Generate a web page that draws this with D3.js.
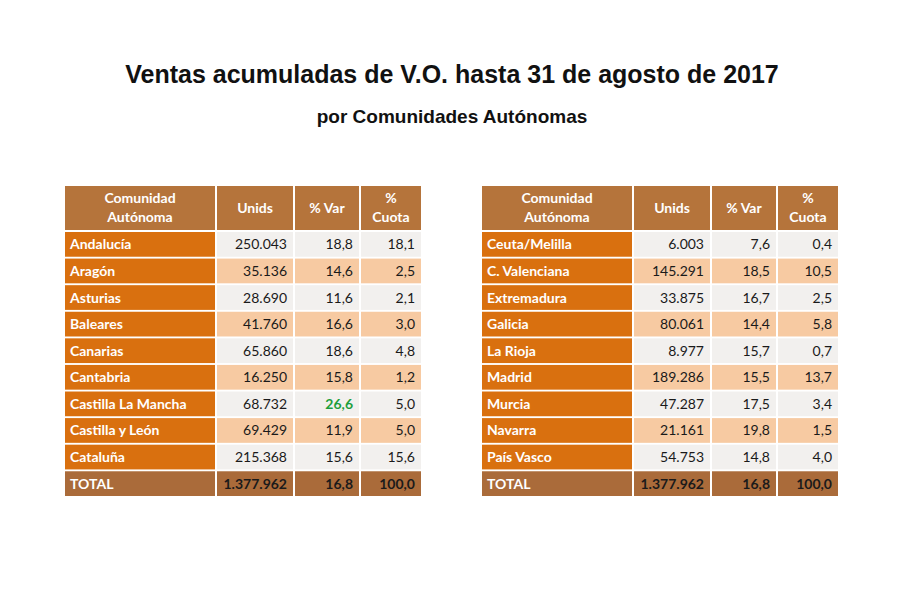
<!DOCTYPE html>
<html lang="es">
<head>
<meta charset="UTF-8">
<title>Ventas acumuladas de V.O.</title>
<script src="https://d3js.org/d3.v7.min.js"></script>
<style>
  body { margin: 0; background: #fff; }
  svg { display: block; }
</style>
</head>
<body>
<svg></svg>
<script>
const width = 900, height = 600;

const headers = ["Comunidad\nAutónoma", "Unids", "% Var", "%\nCuota"];

const regionsLeft = ["Andalucía", "Aragón", "Asturias", "Baleares", "Canarias", "Cantabria", "Castilla La Mancha", "Castilla y León", "Cataluña"];
const unidsLeft = ["250.043", "35.136", "28.690", "41.760", "65.860", "16.250", "68.732", "69.429", "215.368"];
const varLeft = ["18,8", "14,6", "11,6", "16,6", "18,6", "15,8", "26,6", "11,9", "15,6"];
const cuotaLeft = ["18,1", "2,5", "2,1", "3,0", "4,8", "1,2", "5,0", "5,0", "15,6"];

const regionsRight = ["Ceuta/Melilla", "C. Valenciana", "Extremadura", "Galicia", "La Rioja", "Madrid", "Murcia", "Navarra", "País Vasco"];
const unidsRight = ["6.003", "145.291", "33.875", "80.061", "8.977", "189.286", "47.287", "21.161", "54.753"];
const varRight = ["7,6", "18,5", "16,7", "14,4", "15,7", "15,5", "17,5", "19,8", "14,8"];
const cuotaRight = ["0,4", "10,5", "2,5", "5,8", "0,7", "13,7", "3,4", "1,5", "4,0"];

const total = ["TOTAL", "1.377.962", "16,8", "100,0"];
const highlight = "26,6";

const svg = d3.select("svg").attr("width", width).attr("height", height);

svg.append("text").attr("x", 452).attr("y", 83).attr("text-anchor", "middle")
  .style("font-family", "'Liberation Sans Narrow', 'Liberation Sans', Arial, sans-serif")
  .style("font-weight", "bold").style("font-size", "25px").attr("fill", "#111")
  .text("Ventas acumuladas de V.O. hasta 31 de agosto de 2017");
svg.append("text").attr("x", 452).attr("y", 123).attr("text-anchor", "middle")
  .style("font-family", "'Liberation Sans Narrow', 'Liberation Sans', Arial, sans-serif")
  .style("font-weight", "bold").style("font-size", "19px").attr("fill", "#111")
  .text("por Comunidades Autónomas");

const colWidths = [152, 78, 66, 62];
const gap = 2;

function drawTable(x0, regions, unids, vars, cuotas) {
  const rows = regions.map((r, i) => [r, unids[i], vars[i], cuotas[i]]);
  rows.push(total);
  const g = svg.append("g").attr("transform", `translate(${x0},0)`);
  const edges = d3.cumsum([0, ...colWidths]);
  const y = d3.scaleBand().domain(d3.range(rows.length)).range([232, 496]).paddingInner(0.07);

  // header
  headers.forEach((h, j) => {
    g.append("rect").attr("x", edges[j]).attr("y", 186)
      .attr("width", colWidths[j] - gap).attr("height", 44).attr("fill", "#b5743b");
    const lines = h.split("\n");
    const t = g.append("text").attr("x", edges[j] + (colWidths[j] - gap) / 2)
      .attr("text-anchor", "middle").attr("fill", "#fff")
      .style("font-family", "Lato, 'Open Sans', sans-serif").style("font-weight", "bold").style("font-size", "14px");
    lines.forEach((l, k) => {
      t.append("tspan").attr("x", edges[j] + (colWidths[j] - gap) / 2)
        .attr("y", lines.length === 1 ? 213 : 203 + k * 19).text(l);
    });
  });

  rows.forEach((row, i) => {
    const isTotal = i === rows.length - 1;
    const bg = isTotal ? "#aa6b3a" : (i % 2 === 0 ? "#f2f0ee" : "#f7caa2");
    row.forEach((v, j) => {
      g.append("rect").attr("x", edges[j]).attr("y", y(i))
        .attr("width", colWidths[j] - gap).attr("height", y.bandwidth())
        .attr("fill", j === 0 && !isTotal ? "#d9700f" : bg);
      const color = j === 0 ? "#fff" : (j === 2 && v === highlight && !isTotal ? "#1e9e3c" : "#1a1a1a");
      g.append("text")
        .attr("x", j === 0 ? edges[j] + 5 : edges[j + 1] - gap - 6)
        .attr("y", y(i) + y.bandwidth() / 2 + 5)
        .attr("text-anchor", j === 0 ? "start" : "end")
        .attr("fill", color)
        .style("font-family", "Lato, 'Open Sans', sans-serif")
        .style("font-weight", j === 0 || isTotal || (j === 2 && v === highlight) ? "bold" : "normal")
        .style("font-size", "14px")
        .text(v);
    });
  });
}

drawTable(65, regionsLeft, unidsLeft, varLeft, cuotaLeft);
drawTable(482, regionsRight, unidsRight, varRight, cuotaRight);
</script>
</body>
</html>
